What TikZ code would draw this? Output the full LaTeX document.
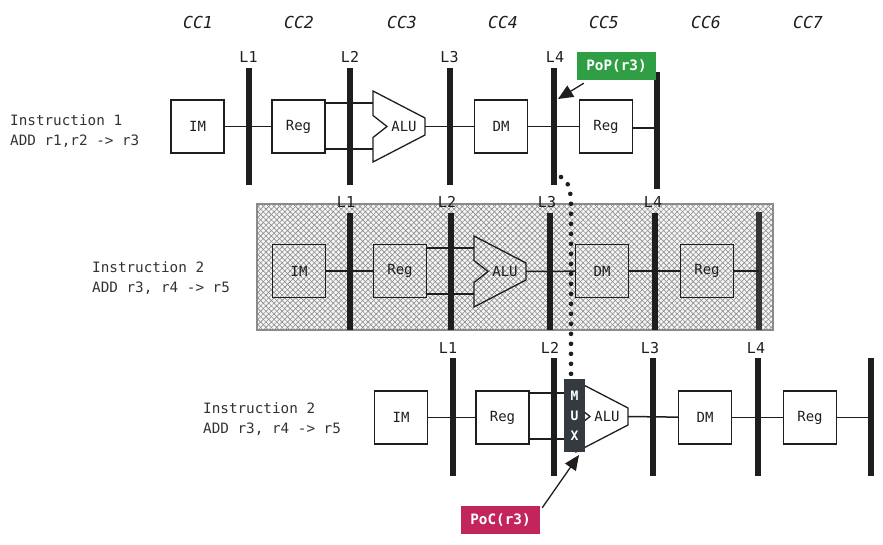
\documentclass[tikz,border=0pt]{standalone}
\usepackage{fontspec}
\usetikzlibrary{patterns.meta,arrows.meta,calc}
\newfontfamily\monof{DejaVu Sans Mono}
\definecolor{ink}{HTML}{1E1E1E}
\definecolor{txt}{HTML}{333333}
\definecolor{popg}{HTML}{2F9E44}
\definecolor{pocm}{HTML}{C2255C}
\definecolor{muxc}{HTML}{343A40}
\definecolor{hatchc}{HTML}{8C8C8C}
\definecolor{hatchb}{HTML}{8A8A8A}
\tikzset{
  conn/.style={draw=ink,line width=1.5pt},
  box/.style={draw=ink,line width=1.3pt,minimum width=53pt,minimum height=53pt,inner sep=0pt,
    text=ink,font=\monof\fontsize{14}{16}\selectfont},
  bar/.style={fill=ink,minimum width=6pt,minimum height=117pt,inner sep=0pt,outer sep=0pt},
  llbl/.style={text=ink,inner sep=0pt,font=\monof\fontsize{15}{16}\selectfont},
  cclbl/.style={text=ink,inner sep=0pt,font=\monof\itshape\fontsize{16.5}{18}\selectfont},
  instr/.style={text=txt,inner sep=0pt,anchor=west,align=left,font=\monof\fontsize{14.3}{20}\selectfont},
  alulbl/.style={text=ink,inner sep=0pt,font=\monof\fontsize{14}{16}\selectfont},
  tag/.style={text=white,inner sep=0pt,minimum width=79pt,minimum height=28pt,font=\monof\bfseries\fontsize{14.3}{16}\selectfont},
  callout/.style={draw=ink,line width=1.3pt,-{Triangle[length=15pt,width=13pt]}},
  dots/.style={draw=ink,line width=4.6pt,line cap=round,dash pattern=on 0pt off 10pt},
  alu/.pic={
    \draw[conn,line width=1.3pt] (0,-35.5) -- (52,-8.5) -- (52,8.5) -- (0,35.5) -- (0,11) -- (14,0) -- (0,-11) -- cycle;
    \coordinate (-in1) at (0,-23.5);
    \coordinate (-in2) at (0,22.5);
    \coordinate (-out) at (52,0);
    \node[alulbl] (-t) at (31,0) {ALU};
  }
}
\begin{document}
\begin{tikzpicture}[x=1pt,y=-1pt]
\useasboundingbox (0,0) rectangle (883,545);

% clock cycle labels
\node[cclbl] (cc1) at (198,22) {CC1};
\node[cclbl] (cc2) at (299,22) {CC2};
\node[cclbl] (cc3) at (402,22) {CC3};
\node[cclbl] (cc4) at (503,22) {CC4};
\node[cclbl] (cc5) at (604,22) {CC5};
\node[cclbl] (cc6) at (706,22) {CC6};
\node[cclbl] (cc7) at (808,22) {CC7};

% ---------------- Instruction 1 ----------------
\node[instr] (i1) at (10,131) {Instruction 1\\ADD r1,r2 -> r3};
\node[box] (im1) at (197.5,126.5) {IM};
\node[box] (rg1) at (298.5,126.5) {Reg};
\pic (alu1) at (373,126.5) {alu};
\node[box] (dm1) at (501,126.5) {DM};
\node[box] (wb1) at (606,126.5) {Reg};
\draw[conn] (im1) -- (rg1);
\draw[conn] (rg1.east |- alu1-in1) -- (alu1-in1);
\draw[conn] (rg1.east |- alu1-in2) -- (alu1-in2);
\draw[conn] (alu1-out) -- (dm1);
\draw[conn] (dm1) -- (wb1);
\node[bar] (b11) at (248.5,126.5) {};
\node[bar] (b12) at (349.5,126.5) {};
\node[bar] (b13) at (449.5,126.5) {};
\node[bar] (b14) at (554,126.5) {};
\node[bar] (b15) at (656.5,130.5) {};
\draw[conn] ([yshift=-1.5pt]wb1.east) -- ([yshift=-1.5pt]wb1.east -| b15.center);
\node[llbl] (l11) at (248.5,57) {L1};
\node[llbl] (l12) at (350,57) {L2};
\node[llbl] (l13) at (449.5,57) {L3};
\node[llbl] (l14) at (555,57) {L4};

% ---------------- Instruction 2 (stalled, hatched) ----------------
\node[draw=hatchb,line width=1.1pt,minimum width=516pt,minimum height=126pt,inner sep=0pt,
  pattern={Lines[angle=45,distance=3.8pt,line width=0.6pt]},pattern color=hatchc,
  preaction={fill=black!4},
  postaction={pattern={Lines[angle=-45,distance=3.8pt,line width=0.6pt]},pattern color=hatchc}]
  (bg) at (515,267) {};
\node[instr] (i2) at (92,278.5) {Instruction 2\\ADD r3, r4 -> r5};
\node[box] (im2) at (299,271) {IM};
\node[box] (rg2) at (400,271) {Reg};
\pic (alu2) at (474,271.5) {alu};
\node[box] (dm2) at (602,271) {DM};
\node[box] (wb2) at (707,271) {Reg};
\draw[conn] (im2) -- (rg2);
\draw[conn] (rg2.east |- alu2-in1) -- (alu2-in1);
\draw[conn] (rg2.east |- alu2-in2) -- (alu2-in2);
\draw[conn] (alu2-out) -- (dm2);
\draw[conn] (dm2) -- (wb2);
\node[bar] (b21) at (349.5,271.5) {};
\node[bar] (b22) at (450.5,271.5) {};
\node[bar] (b23) at (549.5,271.5) {};
\node[bar] (b24) at (654.5,271.5) {};
\node[bar,fill=ink!90] (b25) at (758.5,271) {};
\draw[conn] (wb2.east) -- (wb2.east -| b25.center);
\node[llbl] (l21) at (346,202) {L1};
\node[llbl] (l22) at (447,202) {L2};
\node[llbl] (l23) at (547,202) {L3};
\node[llbl] (l24) at (653,202) {L4};

% ---------------- Instruction 2 (forwarded) ----------------
\node[instr] (i3) at (203,419) {Instruction 2\\ADD r3, r4 -> r5};
\node[box] (im3) at (401,417.5) {IM};
\node[box] (rg3) at (502.5,417.5) {Reg};
\pic (alu3) at (576,416.5) {alu};
\node[box] (dm3) at (705,417.5) {DM};
\node[box] (wb3) at (810,417.5) {Reg};
\node[fill=muxc,minimum width=21pt,minimum height=73pt,inner sep=0pt,text=white,align=center,
  font=\monof\bfseries\fontsize{13}{20}\selectfont] (mux) at (574.5,415.5) {M\\U\\X};
\draw[conn] (im3) -- (rg3);
\draw[conn] (rg3.east |- alu3-in1) -- (mux.west |- alu3-in1);
\draw[conn] (rg3.east |- alu3-in2) -- (mux.west |- alu3-in2);
\draw[conn] (alu3-out) -- (dm3);
\draw[conn] (dm3) -- (wb3);
\node[bar,minimum height=118pt] (b31) at (452.5,417) {};
\node[bar,minimum height=118pt] (b32) at (553.5,417) {};
\node[bar,minimum height=118pt] (b33) at (652.5,417) {};
\node[bar,minimum height=118pt] (b34) at (757.5,417) {};
\node[bar,minimum height=118pt] (b35) at (870.5,416.5) {};
\draw[conn] (wb3.east) -- (wb3.east -| b35.center);
\node[llbl] (l31) at (448,348) {L1};
\node[llbl] (l32) at (550,348) {L2};
\node[llbl] (l33) at (650,348) {L3};
\node[llbl] (l34) at (756,348) {L4};

% ---------------- forwarding ----------------
\coordinate (d0) at (561,177);
\coordinate (d1) at (571,199);
\coordinate (d2) at (571,376);
\draw[dots] (d0) .. controls (569,184) .. (d1) -- (d2);

\node[tag,fill=popg] (pop) at (616.5,66) {PoP(r3)};
\coordinate (popt) at (558,99);
\draw[callout] ($(pop.south west)+(7,3)$) -- (popt);

\node[tag,fill=pocm] (poc) at (500.5,520) {PoC(r3)};
\coordinate (poct) at (579,455);
\draw[callout] ($(poc.north east)+(2,2)$) -- (poct);
\end{tikzpicture}
\end{document}
